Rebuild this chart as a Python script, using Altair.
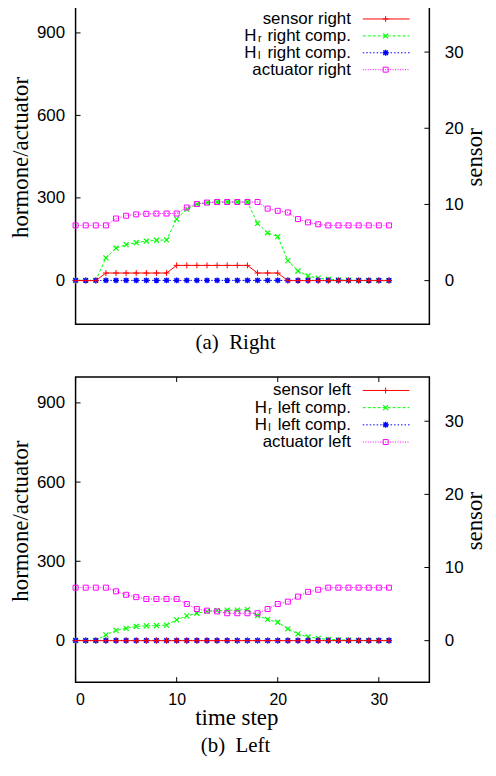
import altair as alt
import pandas as pd

# ---------------- data ----------------
t = list(range(32))

sensor_right = [0, 0, 0, 1, 1, 1, 1, 1, 1, 1, 2, 2, 2, 2, 2, 2, 2, 2, 1, 1, 1, 0, 0, 0, 0, 0, 0, 0, 0, 0, 0, 0]
hr_right = [0, 0, 0, 82, 117, 130, 137, 143, 146, 147, 223, 259, 277, 283, 285, 285, 285, 285, 207, 173, 159, 72, 34, 16, 8, 4, 2, 1, 0, 0, 0, 0]
hl_right = [0, 0, 0, 0, 0, 0, 0, 0, 0, 0, 0, 0, 0, 0, 0, 0, 0, 0, 0, 0, 0, 0, 0, 0, 0, 0, 0, 0, 0, 0, 0, 0]
actuator_right = [200, 200, 200, 200, 225, 235, 240, 242, 243, 243, 243, 265, 278, 283, 285, 285, 285, 285, 285, 261, 253, 247, 223, 211, 204, 200, 200, 200, 200, 200, 200, 200]

sensor_left = [0, 0, 0, 0, 0, 0, 0, 0, 0, 0, 0, 0, 0, 0, 0, 0, 0, 0, 0, 0, 0, 0, 0, 0, 0, 0, 0, 0, 0, 0, 0, 0]
hr_left = [0, 0, 0, 21, 38, 46, 53, 55, 56, 58, 78, 93, 103, 110, 113, 115, 115, 117, 94, 80, 69, 44, 25, 13, 8, 4, 2, 1, 0, 0, 0, 0]
hl_left = [0, 0, 0, 0, 0, 0, 0, 0, 0, 0, 0, 0, 0, 0, 0, 0, 0, 0, 0, 0, 0, 0, 0, 0, 0, 0, 0, 0, 0, 0, 0, 0]
actuator_left = [200, 200, 200, 200, 186, 173, 164, 157, 157, 157, 157, 138, 119, 113, 110, 103, 103, 103, 103, 119, 138, 147, 166, 184, 192, 200, 200, 200, 200, 200, 200, 200]

left_ticks = [0, 300, 600, 900]
right_ticks = [0, 10, 20, 30]
x_ticks = [0, 10, 20, 30]

# ---------------- styles ----------------
W = 356
SANS = "Liberation Sans"
SERIF = "Liberation Serif"
PLUS = "M-1,0L1,0M0,-1L0,1"
CROSS = "M-1,-1L1,1M-1,1L1,-1"
STAR = "M-1,0L1,0M0,-1L0,1M-0.75,-0.75L0.75,0.75M-0.75,0.75L0.75,-0.75"

STYLE = {
    "sensor": dict(color="#ff0000", dash=None, shape=PLUS, size=36, sw=1.0),
    "hr": dict(color="#00ff00", dash=[3, 2], shape=CROSS, size=25, sw=1.2),
    "hl": dict(color="#0000ff", dash=[1.5, 2], shape=STAR, size=36, sw=1.4),
    "act": dict(color="#ff00ff", dash=[1, 1.5], shape="square", size=25, sw=1.0),
}

dummy = pd.DataFrame({"k": [0]})


def line_kw(key):
    st = STYLE[key]
    kw = dict(color=st["color"], strokeWidth=1)
    if st["dash"] is not None:
        kw["strokeDash"] = st["dash"]
    return kw


def point_kw(key):
    st = STYLE[key]
    return dict(shape=st["shape"], size=st["size"], filled=False, color=st["color"],
                strokeWidth=st["sw"], opacity=1)


def panel(series, height, ydom, y2dom, entries, leg_y0, leg_step, h_right, caption, show_x, cap_offset):
    rows = []
    for key, vals in series.items():
        for ti, v in zip(t, vals):
            rows.append({"t": ti, "series": key, "value": v})
    long = pd.DataFrame(rows)

    if show_x:
        x_axis = alt.Axis(values=x_ticks, title="time step", ticks=False, domain=False, grid=False,
                          labelPadding=10, labelFontSize=16, titleX=161.7, titleY=43,
                          titleBaseline="alphabetic", titleAlign="center")
    else:
        x_axis = None
    X = alt.X("t:Q", scale=alt.Scale(domain=[0, 35], nice=False, zero=False), axis=x_axis)

    YL = alt.Y("value:Q", scale=alt.Scale(domain=ydom, nice=False, zero=False),
               axis=alt.Axis(orient="left", values=left_ticks, title="hormone/actuator", ticks=False,
                             domain=False, grid=False, labelPadding=11, titleAngle=270,
                             titleX=-55.5, titleY=height / 2 - 9, titleBaseline="middle", titleAlign="center"))
    YR = alt.Y("value:Q", scale=alt.Scale(domain=y2dom, nice=False, zero=False),
               axis=alt.Axis(orient="right", values=right_ticks, title="sensor", ticks=False,
                             domain=False, grid=False, labelPadding=15, titleAngle=270,
                             titleX=45.5, titleY=height / 2 - 9, titleBaseline="middle", titleAlign="center"))

    base = alt.Chart(long)
    left_layers = []
    right_layers = []
    for key in ["sensor", "hr", "hl", "act"]:
        src = base.transform_filter(alt.datum.series == key)
        ln = src.mark_line(**line_kw(key)).encode(x=X, y=YR if key == "sensor" else YL)
        pt = src.mark_point(**point_kw(key)).encode(x=X, y=YR if key == "sensor" else YL)
        if key == "sensor":
            right_layers += [ln, pt]
        else:
            left_layers += [ln, pt]

    # inward ticks (gnuplot style)
    lt = alt.Chart(pd.DataFrame({"value": left_ticks})).mark_rule(color="black", strokeWidth=1).encode(
        y=YL, x=alt.value(0), x2=alt.value(5))
    rt = alt.Chart(pd.DataFrame({"value": right_ticks})).mark_rule(color="black", strokeWidth=1).encode(
        y=YR, x=alt.value(W - 5), x2=alt.value(W))
    left_layers.append(lt)
    right_layers.append(rt)
    if show_x:
        xt_df = pd.DataFrame({"t": x_ticks})
        xb = alt.Chart(xt_df).mark_rule(color="black", strokeWidth=1).encode(
            x=X, y=alt.value(height), y2=alt.value(height - 5))
        xtp = alt.Chart(xt_df).mark_rule(color="black", strokeWidth=1).encode(
            x=X, y=alt.value(0), y2=alt.value(5))
        left_layers += [xb, xtp]

    # legend (drawn inside the plot, top right)
    for i, (key, sub, label) in enumerate(entries):
        yy = leg_y0 + i * leg_step
        left_layers.append(alt.Chart(dummy).mark_rule(**line_kw(key)).encode(
            x=alt.value(289), x2=alt.value(336), y=alt.value(yy)))
        left_layers.append(alt.Chart(dummy).mark_point(**point_kw(key)).encode(
            x=alt.value(312), y=alt.value(yy)))
        left_layers.append(alt.Chart(dummy).mark_text(
            align="right", baseline="middle", font=SANS, fontSize=17, color="black", text=label).encode(
            x=alt.value(277), y=alt.value(yy)))
        if sub:
            left_layers.append(alt.Chart(dummy).mark_text(
                align="right", baseline="middle", font=SANS, fontSize=17, color="black", text="H").encode(
                x=alt.value(h_right), y=alt.value(yy)))
            left_layers.append(alt.Chart(dummy).mark_text(
                align="left", baseline="middle", font=SANS, fontSize=11, color="black", text=sub).encode(
                x=alt.value(h_right + 1.5), y=alt.value(yy + 3.5)))

    left = alt.layer(*left_layers)
    right = alt.layer(*right_layers)
    ch = alt.layer(left, right).resolve_scale(y="independent").properties(
        width=W, height=height,
        title=alt.TitleParams(caption, orient="bottom", anchor="middle", frame="group", dx=-17,
                              offset=cap_offset, font=SERIF, fontSize=21, fontWeight="normal",
                              color="black", baseline="alphabetic"))
    return ch


top = panel({"sensor": sensor_right, "hr": hr_right, "hl": hl_right, "act": actuator_right},
            319, [-160, 993], [-5.74, 35.87],
            [("sensor", None, "sensor right"), ("hr", "r", "right comp."),
             ("hl", "l", "right comp."), ("act", None, "actuator right")],
            11.7, 17.0, 182, "(a)\u00a0\u00a0Right", False, 24.5)

bottom = panel({"sensor": sensor_left, "hr": hr_left, "hl": hl_left, "act": actuator_left},
               307, [-158, 998], [-5.67, 36.04],
               [("sensor", None, "sensor left"), ("hr", "r", "left comp."),
                ("hl", "l", "left comp."), ("act", None, "actuator left")],
               13.5, 17.3, 192.5, "(b)\u00a0\u00a0Left", True, 22)

chart = alt.vconcat(top, bottom, spacing=21).properties(
    padding={"left": 0, "top": -4, "right": 0, "bottom": 0}, background="white"
).configure_view(
    stroke="black", strokeWidth=1.5, fill="white"
).configure_axis(
    labelFont=SANS, labelFontSize=17, labelColor="black",
    titleFont=SERIF, titleFontSize=23, titleFontWeight="normal", titleColor="black"
)

chart.save("out.html", embed_options={"renderer": "svg", "actions": False})
